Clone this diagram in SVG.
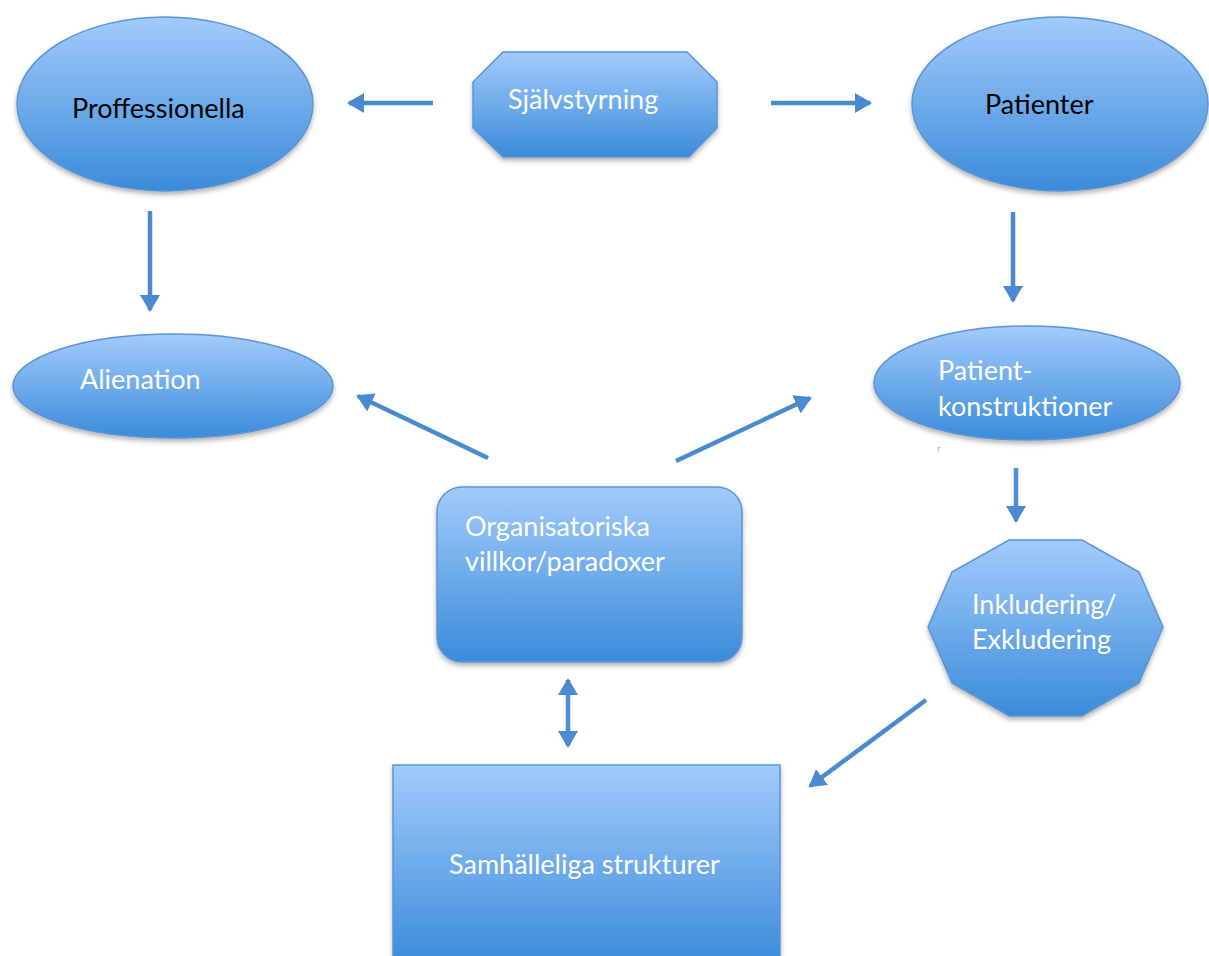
<svg xmlns="http://www.w3.org/2000/svg" width="1209" height="956" viewBox="0 0 1209 956">
<defs>
<linearGradient id="g" x1="0" y1="0" x2="0" y2="1">
<stop offset="0" stop-color="#a2cbfc"/>
<stop offset="1" stop-color="#3b8bd9"/>
</linearGradient>
<filter id="sh" x="-10%" y="-10%" width="120%" height="130%">
<feDropShadow dx="0" dy="3" stdDeviation="2.5" flood-color="#000" flood-opacity="0.3"/>
</filter>
<marker id="ah" markerUnits="userSpaceOnUse" markerWidth="22" markerHeight="22" refX="15" refY="11" orient="auto-start-reverse">
<path d="M0,1 L17,11 L0,21 Z" fill="#4a8ad0"/>
</marker>
<style>
.s{fill:url(#g);stroke:#5b95d2;stroke-width:1.5;filter:url(#sh)}
.t{font-family:Lato,"Open Sans",sans-serif;font-size:27px;fill:#fff}
.k{fill:#000}
.c{stroke:#4a8ad0;stroke-width:4.5;fill:none;marker-end:url(#ah)}
</style>
</defs>
<rect width="1209" height="956" fill="#fff"/>
<g id="proffessionella"><ellipse class="s" cx="165" cy="104" rx="148" ry="87"/><text class="t k" x="72" y="118">Proffessionella</text></g>
<g id="sjalvstyrning"><polygon class="s" points="503,52 687,52 717,82 717,128 689,157 503,157 473,128 473,82"/><text class="t" x="508" y="109">Självstyrning</text></g>
<g id="patienter"><ellipse class="s" cx="1060" cy="104" rx="148" ry="87"/><text class="t k" x="985" y="114">Patienter</text></g>
<g id="alienation"><ellipse class="s" cx="173" cy="386" rx="160" ry="52"/><text class="t" x="80" y="389">Alienation</text></g>
<g id="patientkonstruktioner"><ellipse class="s" cx="1027" cy="383" rx="153" ry="57"/><text class="t" x="938" y="380">Patient-</text><text class="t" x="938" y="416">konstruktioner</text></g>
<text x="937" y="452" font-family="Lato,sans-serif" font-size="10" fill="#bbb">r</text>
<g id="organisatoriska"><rect class="s" x="437" y="487" width="305" height="175" rx="25"/><text class="t" x="465" y="536">Organisatoriska</text><text class="t" x="465" y="571">villkor/paradoxer</text></g>
<g id="inkludering"><polygon class="s" points="1009,540 1082,540 1139,572 1163,627 1139,683 1082,716 1009,716 952,683 928,627 952,572"/><text class="t" x="972" y="614">Inkludering/</text><text class="t" x="972" y="649">Exkludering</text></g>
<g id="samhalleliga"><rect class="s" x="393" y="765" width="387" height="200"/><text class="t" x="449" y="874">Samhälleliga strukturer</text></g>
<g id="connectors">
<line class="c" x1="433" y1="103" x2="349" y2="103"/>
<line class="c" x1="771" y1="103" x2="870" y2="103"/>
<line class="c" x1="150" y1="211" x2="150" y2="310"/>
<line class="c" x1="1013" y1="212" x2="1013" y2="301"/>
<line class="c" x1="488" y1="458" x2="358" y2="396"/>
<line class="c" x1="676" y1="461" x2="810" y2="398"/>
<line class="c" x1="1016" y1="468" x2="1016" y2="521"/>
<line class="c" x1="568" y1="680" x2="568" y2="746" marker-start="url(#ah)"/>
<line class="c" x1="926" y1="700" x2="810" y2="786"/>
</g>
</svg>
